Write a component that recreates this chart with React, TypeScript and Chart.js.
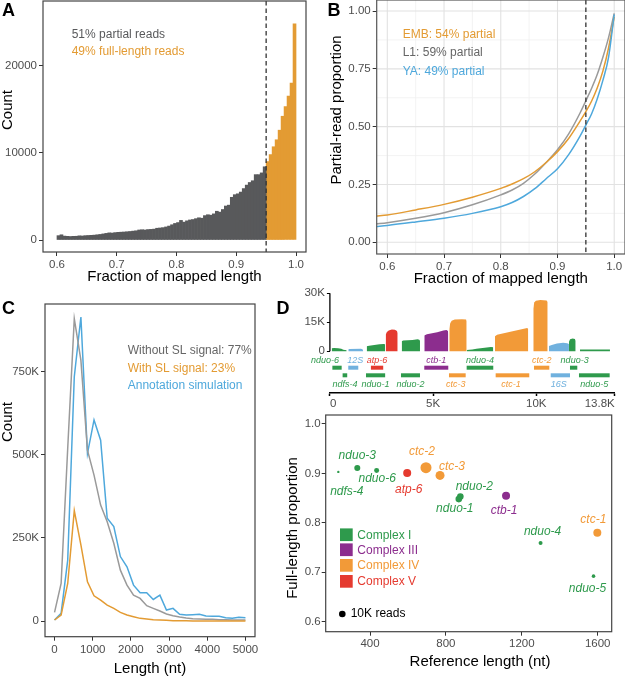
import React, { useEffect, useRef } from "react";
import { Chart, registerables } from "chart.js";

Chart.register(...registerables);

const FONT = "'Liberation Sans', Arial, Helvetica, sans-serif";
const TICK = "#4d4d4d";
const DARK = "#58595b";
const ORANGE = "#e39b33";
const GRAY = "#9a9a9a";
const BLUE = "#4ea8dc";
const GREEN = "#2e9a4c";
const PURPLE = "#8c2d8e";
const ORANGE_D = "#f29a38";
const RED = "#e53a2f";
const BLUE_D = "#70b1de";
const complexColor: Record<string, string> = { I: GREEN, III: PURPLE, IV: ORANGE_D, V: RED, rRNA: BLUE_D };

// ===== Panel A: histogram of fraction of mapped length =====
const aGrayBinStarts = [
  0.600, 0.605, 0.610, 0.615, 0.620, 0.625, 0.630, 0.635, 0.640, 0.645,
  0.650, 0.655, 0.660, 0.665, 0.670, 0.675, 0.680, 0.685, 0.690, 0.695,
  0.700, 0.705, 0.710, 0.715, 0.720, 0.725, 0.730, 0.735, 0.740, 0.745,
  0.750, 0.755, 0.760, 0.765, 0.770, 0.775, 0.780, 0.785, 0.790, 0.795,
  0.800, 0.805, 0.810, 0.815, 0.820, 0.825, 0.830, 0.835, 0.840, 0.845,
  0.850, 0.855, 0.860, 0.865, 0.870, 0.875, 0.880, 0.885, 0.890, 0.895,
  0.900, 0.905, 0.910, 0.915, 0.920, 0.925, 0.930, 0.935, 0.940, 0.945,
];
const aGrayCounts = [
  500, 600, 450, 420, 400, 420, 430, 480, 460, 500,
  520, 540, 560, 600, 640, 700, 760, 820, 800, 850,
  880, 900, 920, 950, 980, 1020, 1060, 1150, 1180, 1150,
  1200, 1220, 1250, 1350, 1380, 1420, 1500, 1600, 1750, 1900,
  2000, 2250, 2050, 2200, 2300, 2350, 2450, 2550, 2500, 2800,
  2900, 2850, 3000, 3300, 3200, 3500, 3900, 4000, 4900, 5200,
  5300, 5500, 5900, 6300, 6600, 6800, 7500, 7500, 7700, 8400,
];
const aOrangeBinStarts = [0.950, 0.955, 0.960, 0.965, 0.970, 0.975, 0.980, 0.985, 0.990, 0.995];
const aOrangeCounts = [9000, 9800, 10700, 11500, 12600, 14200, 15300, 16500, 18000, 24800];
const aBinWidth = 0.005;
const aThreshold = 0.95;
const aXTicks = [0.6, 0.7, 0.8, 0.9, 1.0];
const aXLabels = ["0.6", "0.7", "0.8", "0.9", "1.0"];
const aYTicks = [0, 10000, 20000];
const aYLabels = ["0", "10000", "20000"];

// ===== Panel B: partial-read proportion curves =====
const bX = [0.58, 0.6, 0.65, 0.7, 0.75, 0.8, 0.82, 0.84, 0.86, 0.88, 0.9, 0.92, 0.94, 0.95, 0.96, 0.97, 0.98, 0.99, 1.0];
const bEMB = [0.114, 0.118, 0.14, 0.164, 0.195, 0.233, 0.252, 0.275, 0.305, 0.345, 0.392, 0.45, 0.525, 0.565, 0.61, 0.667, 0.74, 0.84, 0.975];
const bL1 = [0.079, 0.085, 0.104, 0.128, 0.162, 0.205, 0.226, 0.255, 0.295, 0.345, 0.4, 0.47, 0.56, 0.612, 0.665, 0.725, 0.8, 0.885, 0.99];
const bYA = [0.068, 0.073, 0.088, 0.104, 0.125, 0.154, 0.172, 0.198, 0.232, 0.275, 0.318, 0.38, 0.46, 0.507, 0.555, 0.62, 0.7, 0.8, 0.985];
const bXTicks = [0.6, 0.7, 0.8, 0.9, 1.0];
const bXLabels = ["0.6", "0.7", "0.8", "0.9", "1.0"];
const bYTicks = [0, 0.25, 0.5, 0.75, 1.0];
const bYLabels = ["0.00", "0.25", "0.50", "0.75", "1.00"];
const bMinorX = [0.65, 0.75, 0.85, 0.95];
const bMinorY = [0.125, 0.375, 0.625, 0.875];
const bThreshold = 0.95;

// ===== Panel C: read length distributions (counts in thousands) =====
const cX = [0, 172, 345, 517, 690, 862, 1034, 1207, 1379, 1552, 1724, 1897, 2069, 2241, 2414, 2586, 2759, 2931, 3103, 3276, 3448, 3621, 3793, 3966, 4138, 4310, 4483, 4655, 4828, 5000];
const cWithoutSL = [26, 113, 520, 910, 785, 514, 439, 349, 299, 234, 153, 108, 78, 68, 46, 38, 30, 21, 16, 12, 9, 7, 6, 5, 5, 4, 4, 3, 3, 3];
const cWithSL = [3, 18, 113, 332, 229, 118, 76, 63, 48, 38, 26, 18, 13, 8, 6, 4, 3, 2, 1, 1, 1, 0, 0, 0, 0, 0, 0, 0, 0, 0];
const cAnnotation = [3, 23, 183, 735, 915, 504, 605, 544, 309, 284, 194, 163, 108, 85, 85, 65, 78, 33, 38, 20, 18, 19, 20, 15, 14, 14, 10, 8, 11, 10];
const cXTicks = [0, 1000, 2000, 3000, 4000, 5000];
const cXLabels = ["0", "1000", "2000", "3000", "4000", "5000"];
const cYTicks = [0, 250000, 500000, 750000];
const cYLabels = ["0", "250K", "500K", "750K"];

// ===== Panel D (top): mitochondrial coverage, [position nt, coverage K] =====
const covNduo6Ndfs4 = [[87, 0], [87, 1.6], [200, 1.7], [400, 1.6], [550, 1.3], [650, 0.8], [814, 0.6], [814, 0]];
const cov12S = [[891, 0], [891, 1.0], [950, 1.2], [1500, 1.3], [1580, 1.1], [1618, 0]];
const covNduo1 = [[1783, 0], [1783, 2.6], [1900, 2.9], [2400, 3.6], [2600, 3.8], [2670, 3.7], [2670, 0]];
const covAtp6 = [[2703, 0], [2703, 8.5], [2760, 10], [2850, 10.8], [3000, 11.3], [3150, 11.2], [3250, 10.5], [3285, 9.5], [3285, 0]];
const covNduo2 = [[3479, 0], [3479, 5.2], [3550, 5.6], [4000, 5.9], [4250, 6.2], [4330, 6.0], [4365, 5.5], [4365, 0]];
const covCtb1 = [[4574, 0], [4574, 8.2], [4700, 8.8], [5200, 9.8], [5500, 10.8], [5650, 11.0], [5720, 10.5], [5737, 9], [5737, 0]];
const covCtc3 = [[5785, 0], [5785, 11.5], [5830, 14.5], [5900, 15.8], [6050, 16.4], [6400, 16.6], [6600, 16.5], [6628, 15.5], [6628, 0]];
const covNduo4 = [[6628, 0], [6628, 0.7], [6900, 0.9], [7100, 1.3], [7500, 1.8], [7800, 2.2], [7917, 2.1], [7917, 0]];
const covCtc1 = [[8000, 0], [8000, 7.8], [8100, 8.5], [8800, 10.3], [9400, 11.7], [9560, 12.0], [9612, 11.5], [9612, 0]];
const covCtc2 = [[9855, 0], [9855, 22], [9900, 25.2], [9980, 26.2], [10200, 26.5], [10500, 26.3], [10553, 25.5], [10553, 0]];
const cov16S = [[10615, 0], [10615, 2.8], [10750, 3.3], [11000, 4.0], [11300, 4.4], [11500, 4.2], [11584, 3.8], [11584, 0]];
const covNduo3 = [[11584, 0], [11584, 5.0], [11640, 6.2], [11760, 6.6], [11870, 6.3], [11909, 5.5], [11909, 0]];
const covNduo5 = [[12117, 0], [12117, 0.9], [13571, 0.9], [13571, 0]];
const coverageTracks = [
  { data: covNduo6Ndfs4, complex: "I" }, { data: cov12S, complex: "rRNA" }, { data: covNduo1, complex: "I" },
  { data: covAtp6, complex: "V" }, { data: covNduo2, complex: "I" }, { data: covCtb1, complex: "III" },
  { data: covCtc3, complex: "IV" }, { data: covNduo4, complex: "I" }, { data: covCtc1, complex: "IV" },
  { data: covCtc2, complex: "IV" }, { data: cov16S, complex: "rRNA" }, { data: covNduo3, complex: "I" },
  { data: covNduo5, complex: "I" },
];
const geneNames = ["nduo-6", "ndfs-4", "12S", "nduo-1", "atp-6", "nduo-2", "ctb-1", "ctc-3", "nduo-4", "ctc-1", "ctc-2", "16S", "nduo-3", "nduo-5"];
const geneStart = [120, 616, 890, 1749, 1987, 3444, 4573, 5770, 6627, 8032, 9889, 10700, 11633, 12069];
const geneEnd = [570, 839, 1375, 2677, 2583, 4365, 5736, 6579, 7916, 9660, 10631, 11634, 11987, 13556];
const geneRow = [1, 2, 1, 2, 1, 2, 1, 2, 1, 2, 1, 2, 1, 2];
const geneComplex = ["I", "I", "rRNA", "I", "V", "I", "III", "IV", "I", "IV", "IV", "rRNA", "I", "I"];
const covXTicks = [0, 5000, 10000, 13800];
const covXLabels = ["0", "5K", "10K", "13.8K"];
const covYTicks = [0, 15000, 30000];
const covYLabels = ["0", "15K", "30K"];
// layout-only: horizontal nudge (px) of each gene label
const geneLabelDx = [-12, 0, 2, 0, 0, 0, 0, -1.5, 0, -1.5, 0, -1.5, 1, 0];

// ===== Panel D (bottom): full-length proportion vs reference length =====
const scGenes = ["ndfs-4", "nduo-3", "nduo-6", "atp-6", "ctc-2", "ctc-3", "nduo-2", "nduo-1", "ctb-1", "nduo-4", "ctc-1", "nduo-5"];
const scLength = [233, 333, 435, 596, 695, 769, 876, 868, 1117, 1299, 1598, 1578];
const scFullProp = [0.903, 0.911, 0.906, 0.901, 0.9115, 0.896, 0.853, 0.848, 0.855, 0.759, 0.78, 0.692];
const scReadsK = [1.3, 8.3, 5.7, 14.7, 28, 18.6, 10, 10, 14.7, 3.7, 14.7, 3.0];
const scComplex = ["I", "I", "I", "V", "IV", "IV", "I", "I", "III", "I", "IV", "I"];
const scXTicks = [400, 800, 1200, 1600];
const scXLabels = ["400", "800", "1200", "1600"];
const scYTicks = [0.6, 0.7, 0.8, 0.9, 1.0];
const scYLabels = ["0.6", "0.7", "0.8", "0.9", "1.0"];
const legendComplexes = ["I", "III", "IV", "V"];
const legendNames = ["Complex I", "Complex III", "Complex IV", "Complex V"];
const legendReadsK = 10;

// layout-only: label offsets (px) from each bubble
const scLabelOffset = [[8.5, 20], [0, -12], [0.5, 8.5], [1.5, 17], [-4, -16], [12, -9], [14, -10], [-4, 10], [-2, 15], [2, -11], [-4, -13], [-6, 12]];

const bubbleR = (k: number) => 3.3 * Math.sqrt(k / 10);

type Box = { w: number; h: number; L: number; R: number; T: number; B: number };

function baseOptions(b: Box) {
  return {
    responsive: false,
    animation: false,
    devicePixelRatio: 1,
    events: [],
    layout: { padding: { left: 0, top: b.T, right: b.w - b.R, bottom: 0 } },
    plugins: { legend: { display: false }, tooltip: { enabled: false } },
  };
}

function linAxis(b: Box, dir: string, min: number, max: number, ticks: number[], labels: string[], o: any = {}) {
  return {
    type: "linear",
    min,
    max,
    offset: false,
    afterBuildTicks: (s: any) => {
      s.ticks = ticks.map((v) => ({ value: v }));
    },
    afterFit:
      dir === "x"
        ? (s: any) => {
            s.height = b.h - b.B;
            s.paddingLeft = 0;
            s.paddingRight = 0;
          }
        : (s: any) => {
            s.width = b.L;
            s.paddingTop = 0;
            s.paddingBottom = 0;
          },
    ticks: {
      font: { family: FONT, size: o.fontSize ?? 11.5 },
      color: TICK,
      padding: o.padding ?? 2,
      autoSkip: false,
      maxRotation: 0,
      minRotation: 0,
      align: o.align ?? "center",
      callback: (_v: any, i: number) => labels[i],
    },
    grid: {
      display: true,
      offset: false,
      drawOnChartArea: false,
      drawTicks: true,
      tickLength: o.tickLength ?? 4,
      tickColor: o.tickColor ?? "#333",
      tickWidth: o.tickWidth ?? 1,
    },
    border: o.border ?? { display: false },
  };
}

function drawText(ctx: CanvasRenderingContext2D, s: string, x: number, y: number, o: any = {}) {
  ctx.save();
  ctx.font = `${o.style || "normal"} ${o.weight || "normal"} ${o.size || 12}px ${FONT}`;
  ctx.fillStyle = o.color || "#000";
  ctx.textAlign = o.align || "left";
  ctx.textBaseline = "middle";
  ctx.translate(x, y);
  if (o.rotate) ctx.rotate(o.rotate);
  ctx.fillText(s, 0, 0);
  ctx.restore();
}

function drawFrame(chart: any, color = "#444", lw = 1.2) {
  const { ctx, chartArea: a } = chart;
  ctx.save();
  ctx.strokeStyle = color;
  ctx.lineWidth = lw;
  ctx.strokeRect(a.left, a.top, a.right - a.left, a.bottom - a.top);
  ctx.restore();
}

function drawVDash(chart: any, v: number) {
  const { ctx, chartArea: a } = chart;
  const x = chart.scales.x.getPixelForValue(v);
  ctx.save();
  ctx.strokeStyle = "#333";
  ctx.lineWidth = 1.3;
  ctx.setLineDash([4.5, 3]);
  ctx.beginPath();
  ctx.moveTo(x, a.top);
  ctx.lineTo(x, a.bottom);
  ctx.stroke();
  ctx.restore();
}

function ChartBox({ left, top, width, height, make }: any) {
  const ref = useRef<HTMLCanvasElement>(null);
  useEffect(() => {
    const c = new Chart(ref.current as HTMLCanvasElement, make());
    return () => c.destroy();
  }, []);
  return <canvas ref={ref} width={width} height={height} style={{ position: "absolute", left, top, width, height }} />;
}

// ---------- Panel A ----------
function makeA() {
  const b: Box = { w: 310, h: 300, L: 43, R: 306, T: 1, B: 252 };
  return {
    type: "bar",
    data: {
      datasets: [
        {
          data: aGrayBinStarts.map((s, i) => ({ x: s + aBinWidth / 2, y: aGrayCounts[i] })),
          backgroundColor: DARK,
          borderWidth: 0,
          grouped: false,
          barPercentage: 1,
          categoryPercentage: 1,
        },
        {
          data: aOrangeBinStarts.map((s, i) => ({ x: s + aBinWidth / 2, y: aOrangeCounts[i] })),
          backgroundColor: ORANGE,
          borderWidth: 0,
          grouped: false,
          barPercentage: 1,
          categoryPercentage: 1,
        },
      ],
    },
    options: {
      ...baseOptions(b),
      scales: {
        x: linAxis(b, "x", 0.5766, 1.0167, aXTicks, aXLabels),
        y: linAxis(b, "y", -1376, 27420, aYTicks, aYLabels),
      },
    },
    plugins: [
      {
        id: "ovA",
        afterDraw(chart: any) {
          drawVDash(chart, aThreshold);
          drawFrame(chart);
          const ctx = chart.ctx;
          drawText(ctx, "A", 8.5, 11, { size: 18, weight: "bold", align: "center" });
          drawText(ctx, "51% partial reads", 71.7, 35, { color: DARK });
          drawText(ctx, "49% full-length reads", 71.7, 52, { color: ORANGE });
          drawText(ctx, "Count", 8, 110, { size: 15, align: "center", rotate: -Math.PI / 2 });
          drawText(ctx, "Fraction of mapped length", 174.5, 277, { size: 15, align: "center" });
        },
      },
    ],
  };
}

// ---------- Panel B ----------
function makeB() {
  const b: Box = { w: 315, h: 290, L: 66.7, R: 315, T: 0, B: 254 };
  const mk = (ys: number[], color: string) => ({
    data: bX.map((x, i) => ({ x, y: ys[i] })),
    borderColor: color,
    borderWidth: 1.5,
    pointRadius: 0,
    fill: false,
    cubicInterpolationMode: "monotone",
  });
  return {
    type: "line",
    data: { datasets: [mk(bYA, BLUE), mk(bEMB, ORANGE), mk(bL1, GRAY)] },
    options: {
      ...baseOptions(b),
      scales: {
        x: linAxis(b, "x", 0.5813, 1.019, bXTicks, bXLabels),
        y: linAxis(b, "y", -0.0506, 1.0476, bYTicks, bYLabels),
      },
    },
    plugins: [
      {
        id: "gridB",
        beforeDatasetsDraw(chart: any) {
          const { ctx, chartArea: a, scales } = chart;
          ctx.save();
          const line = (x1: number, y1: number, x2: number, y2: number, c: string, w: number) => {
            ctx.strokeStyle = c;
            ctx.lineWidth = w;
            ctx.beginPath();
            ctx.moveTo(x1, y1);
            ctx.lineTo(x2, y2);
            ctx.stroke();
          };
          bMinorX.forEach((v) => { const x = scales.x.getPixelForValue(v); line(x, a.top, x, a.bottom, "#f0f0f0", 0.8); });
          bMinorY.forEach((v) => { const y = scales.y.getPixelForValue(v); line(a.left, y, a.right, y, "#f0f0f0", 0.8); });
          bXTicks.forEach((v) => { const x = scales.x.getPixelForValue(v); line(x, a.top, x, a.bottom, "#e2e2e2", 1.1); });
          bYTicks.forEach((v) => { const y = scales.y.getPixelForValue(v); line(a.left, y, a.right, y, "#e2e2e2", 1.1); });
          ctx.restore();
        },
        afterDraw(chart: any) {
          drawVDash(chart, bThreshold);
          drawFrame(chart, "#555", 1.2);
          const ctx = chart.ctx;
          drawText(ctx, "B", 24, 11, { size: 18, weight: "bold", align: "center" });
          drawText(ctx, "EMB: 54% partial", 92.7, 35, { color: ORANGE });
          drawText(ctx, "L1: 59% partial", 92.7, 52.5, { color: "#666" });
          drawText(ctx, "YA: 49% partial", 92.7, 72, { color: BLUE });
          drawText(ctx, "Partial-read proportion", 26.7, 110, { size: 15, align: "center", rotate: -Math.PI / 2 });
          drawText(ctx, "Fraction of mapped length", 190.8, 278.5, { size: 15, align: "center" });
        },
      },
    ],
  };
}

// ---------- Panel C ----------
function makeC() {
  const b: Box = { w: 270, h: 376, L: 45, R: 255, T: 4, B: 336.7 };
  const mk = (ys: number[], color: string) => ({
    data: cX.map((x, i) => ({ x, y: ys[i] * 1000 })),
    borderColor: color,
    borderWidth: 1.5,
    pointRadius: 0,
    fill: false,
    tension: 0,
  });
  return {
    type: "line",
    data: { datasets: [mk(cWithSL, ORANGE), mk(cWithoutSL, GRAY), mk(cAnnotation, BLUE)] },
    options: {
      ...baseOptions(b),
      scales: {
        x: linAxis(b, "x", -250, 5250, cXTicks, cXLabels),
        y: linAxis(b, "y", -47200, 954000, cYTicks, cYLabels),
      },
    },
    plugins: [
      {
        id: "ovC",
        afterDraw(chart: any) {
          drawFrame(chart);
          const ctx = chart.ctx;
          drawText(ctx, "C", 8.5, 9, { size: 18, weight: "bold", align: "center" });
          drawText(ctx, "Without SL signal: 77%", 127.7, 51, { color: "#666" });
          drawText(ctx, "With SL signal: 23%", 127.7, 69, { color: ORANGE });
          drawText(ctx, "Annotation simulation", 127.7, 85.5, { color: BLUE });
          drawText(ctx, "Count", 8, 122, { size: 15, align: "center", rotate: -Math.PI / 2 });
          drawText(ctx, "Length (nt)", 150, 368.5, { size: 15, align: "center" });
        },
      },
    ],
  };
}

// ---------- Panel D top: coverage ----------
function makeDTop() {
  const b: Box = { w: 355, h: 132, L: 59.9, R: 344.7, T: 13.3, B: 113 };
  return {
    type: "line",
    data: {
      datasets: coverageTracks.map((t) => ({
        data: t.data.map((p) => ({ x: p[0], y: p[1] * 1000 })),
        borderWidth: 0,
        borderColor: "rgba(0,0,0,0)",
        backgroundColor: complexColor[t.complex],
        pointRadius: 0,
        fill: "origin",
        tension: 0,
      })),
    },
    options: {
      ...baseOptions(b),
      scales: {
        x: linAxis(b, "x", 0, 13800, covXTicks, covXLabels, {
          tickLength: 3,
          padding: 1,
          align: "inner",
          tickColor: "#000",
          tickWidth: 1.5,
          border: { display: true, color: "#000", width: 1.6 },
        }),
        y: linAxis(b, "y", -21569, 30000, covYTicks, covYLabels, { tickLength: 3, padding: 2, tickColor: "#000" }),
      },
    },
    plugins: [
      {
        id: "ovDTop",
        afterDraw(chart: any) {
          const { ctx, chartArea: a, scales } = chart;
          ctx.save();
          ctx.strokeStyle = "#000";
          ctx.lineWidth = 1.3;
          ctx.beginPath();
          ctx.moveTo(a.left, scales.y.getPixelForValue(0));
          ctx.lineTo(a.left, scales.y.getPixelForValue(30000));
          ctx.stroke();
          ctx.restore();
          geneNames.forEach((g, i) => {
            const x1 = scales.x.getPixelForValue(geneStart[i]);
            const x2 = scales.x.getPixelForValue(geneEnd[i]);
            const col = complexColor[geneComplex[i]];
            const top = geneRow[i] === 1 ? 85.7 : 93.3;
            ctx.fillStyle = col;
            ctx.fillRect(x1, top, x2 - x1, 4);
            const ly = geneRow[i] === 1 ? 80.7 : 104;
            drawText(ctx, g, (x1 + x2) / 2 + geneLabelDx[i], ly, { size: 9, style: "italic", color: col, align: "center" });
          });
          drawText(ctx, "D", 13, 29, { size: 18, weight: "bold", align: "center" });
        },
      },
    ],
  };
}

// ---------- Panel D bottom: scatter ----------
function makeDScatter() {
  const b: Box = { w: 355, h: 271, L: 55.7, R: 341.7, T: 10, B: 226.7 };
  return {
    type: "bubble",
    data: {
      datasets: [
        {
          data: scGenes.map((_g, i) => ({ x: scLength[i], y: scFullProp[i], r: bubbleR(scReadsK[i]) })),
          backgroundColor: scComplex.map((c) => complexColor[c]),
          borderWidth: 0,
        },
      ],
    },
    options: {
      ...baseOptions(b),
      scales: {
        x: linAxis(b, "x", 166.5, 1673.8, scXTicks, scXLabels, { padding: 1 }),
        y: linAxis(b, "y", 0.5796, 1.0182, scYTicks, scYLabels, { padding: 1 }),
      },
    },
    plugins: [
      {
        id: "ovDS",
        afterDraw(chart: any) {
          drawFrame(chart);
          const { ctx, scales } = chart;
          scGenes.forEach((g, i) => {
            const px = scales.x.getPixelForValue(scLength[i]);
            const py = scales.y.getPixelForValue(scFullProp[i]);
            drawText(ctx, g, px + scLabelOffset[i][0], py + scLabelOffset[i][1], {
              size: 12,
              style: "italic",
              color: complexColor[scComplex[i]],
              align: "center",
            });
          });
          const rowsY = [129.7, 144.7, 160.3, 176.3];
          legendComplexes.forEach((c, i) => {
            ctx.fillStyle = complexColor[c];
            ctx.fillRect(70, rowsY[i] - 6.3, 12.7, 12.7);
            drawText(ctx, legendNames[i], 87.3, rowsY[i] + 0.5, { size: 12, color: complexColor[c] });
          });
          ctx.fillStyle = "#000";
          ctx.beginPath();
          ctx.arc(72.3, 209, bubbleR(legendReadsK), 0, Math.PI * 2);
          ctx.fill();
          drawText(ctx, "10K reads", 80.7, 209, { size: 12 });
          drawText(ctx, "Full-length proportion", 23.3, 123, { size: 15, align: "center", rotate: -Math.PI / 2 });
          drawText(ctx, "Reference length (nt)", 210, 257, { size: 15, align: "center" });
        },
      },
    ],
  };
}

export default function App() {
  return (
    <div style={{ position: "absolute", left: 0, top: 0, width: 625, height: 676, background: "#fff", overflow: "hidden" }}>
      <ChartBox left={0} top={0} width={310} height={300} make={makeA} />
      <ChartBox left={310} top={0} width={315} height={290} make={makeB} />
      <ChartBox left={0} top={300} width={270} height={376} make={makeC} />
      <ChartBox left={270} top={280} width={355} height={132} make={makeDTop} />
      <ChartBox left={270} top={405} width={355} height={271} make={makeDScatter} />
    </div>
  );
}
